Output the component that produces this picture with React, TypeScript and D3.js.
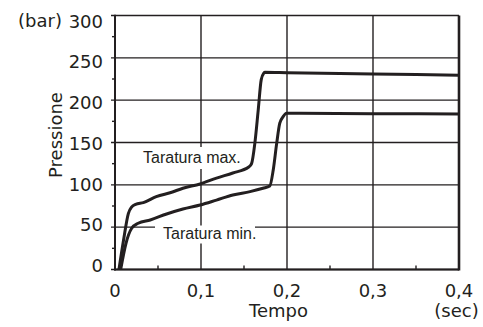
import React from "react";
import * as d3 from "d3";

// Pressure curves (bar) over time (sec)
const maxTime = [0.0046, 0.0100, 0.0155, 0.0195, 0.024, 0.033, 0.048, 0.065, 0.079, 0.099, 0.118, 0.137, 0.1555, 0.1588, 0.1626, 0.1665, 0.170, 0.173, 0.1745, 0.2, 0.3, 0.4];
const maxValue = [0, 35, 66, 74, 77, 79, 86, 91, 96, 101, 108, 114, 121, 125, 149, 188, 224, 232, 233, 232.5, 231, 229.5];

const minTime = [0.0066, 0.0128, 0.0194, 0.027, 0.041, 0.06, 0.079, 0.099, 0.118, 0.137, 0.157, 0.172, 0.180, 0.184, 0.188, 0.1916, 0.1955, 0.1994, 0.3, 0.4];
const minValue = [0, 31, 48.7, 54.6, 58.5, 65.6, 71.5, 76.2, 82, 88, 92, 96, 98.7, 117.6, 149, 172.8, 180.5, 184.5, 184, 183.7];

const yMajor = [0, 50, 100, 150, 200, 250, 300];
const yMinor = [25, 75, 125, 175, 225, 275];
const xMajor = [0, 0.1, 0.2, 0.3, 0.4];
const xMinor = [0.05, 0.15, 0.25, 0.35];
const xTickLabels = ["0", "0,1", "0,2", "0,3", "0,4"];

const W = 483;
const H = 327;
const INK = "#231f20";
const TICK_FONT = "'DejaVu Sans', Verdana, sans-serif";
const NOTE_FONT = "'Liberation Sans', Arial, sans-serif";

export default function App() {
  const x = d3.scaleLinear().domain([0, 0.4]).range([115, 459]);
  const y = d3.scaleLinear().domain([0, 300]).range([269.5, 15.5]);
  // tick labels sit on a slightly tighter spacing than the grid
  const yLab = d3.scaleLinear().domain([0, 300]).range([265.5, 21]);

  const line = d3
    .line<[number, number]>()
    .x((d) => x(d[0]))
    .y((d) => y(d[1]))
    .curve(d3.curveMonotoneX);

  const maxPts = maxTime.map((t, i) => [t, maxValue[i]] as [number, number]);
  const minPts = minTime.map((t, i) => [t, minValue[i]] as [number, number]);

  return (
    <svg
      width={W}
      height={H}
      style={{ position: "absolute", left: 0, top: 0, background: "#fff" }}
    >
      <rect x={0} y={0} width={W} height={H} fill="#fff" />
      {/* horizontal grid */}
      {yMajor.map((v) => (
        <line key={"gy" + v} x1={111} x2={x(0.4)} y1={y(v)} y2={y(v)} stroke={INK} strokeWidth={1.4} />
      ))}
      {yMinor.map((v) => (
        <line key={"my" + v} x1={112} x2={x(0)} y1={y(v)} y2={y(v)} stroke={INK} strokeWidth={1.4} />
      ))}
      {/* vertical grid */}
      {xMajor.slice(1, 4).map((v) => (
        <line key={"gx" + v} x1={x(v)} x2={x(v)} y1={y(300)} y2={y(0)} stroke={INK} strokeWidth={1.4} />
      ))}
      {xMinor.map((v) => (
        <line key={"mx" + v} x1={x(v)} x2={x(v)} y1={y(0) - 4} y2={y(0)} stroke={INK} strokeWidth={1.4} />
      ))}
      {/* frame */}
      <line x1={x(0.4)} x2={x(0.4)} y1={y(300)} y2={y(0) + 1} stroke={INK} strokeWidth={2.6} />
      <line x1={x(0)} x2={x(0)} y1={y(300) - 0.7} y2={y(0) + 1} stroke={INK} strokeWidth={2} />
      <line x1={x(0) - 1} x2={x(0.4)} y1={y(0)} y2={y(0)} stroke={INK} strokeWidth={2} />

      {/* label backgrounds */}
      <rect x={141} y={147} width={103} height={22} fill="#fff" />
      <rect x={155} y={225.5} width={100} height={18} fill="#fff" />

      {/* curves */}
      <path d={line(maxPts) ?? ""} fill="none" stroke={INK} strokeWidth={3} strokeLinejoin="round" />
      <path d={line(minPts) ?? ""} fill="none" stroke={INK} strokeWidth={3} strokeLinejoin="round" />

      {/* annotations */}
      <text x={143} y={163.3} fontFamily={NOTE_FONT} fontSize={16} fill={INK}>
        Taratura max.
      </text>
      <text x={163} y={239.3} fontFamily={NOTE_FONT} fontSize={16} fill={INK}>
        Taratura min.
      </text>

      {/* y tick labels */}
      {yMajor.map((v) => (
        <text
          key={"ly" + v}
          x={103}
          y={yLab(v) + 6.5}
          textAnchor="end"
          fontFamily={TICK_FONT}
          fontSize={18}
          fill={INK}
        >
          {v}
        </text>
      ))}
      <text x={62} y={27.3} textAnchor="end" fontFamily={TICK_FONT} fontSize={18} fill={INK}>
        (bar)
      </text>

      {/* x tick labels */}
      {xMajor.map((v, i) => (
        <text
          key={"lx" + v}
          x={x(v)}
          y={296.7}
          textAnchor="middle"
          fontFamily={TICK_FONT}
          fontSize={18}
          fill={INK}
        >
          {xTickLabels[i]}
        </text>
      ))}

      {/* axis titles */}
      <text x={278.5} y={317.3} textAnchor="middle" fontFamily={TICK_FONT} fontSize={18} fill={INK}>
        Tempo
      </text>
      <text x={456.5} y={317.3} textAnchor="middle" fontFamily={TICK_FONT} fontSize={18} fill={INK}>
        (sec)
      </text>
      <text
        transform="translate(61.5,135) rotate(-90)"
        textAnchor="middle"
        fontFamily={TICK_FONT}
        fontSize={18}
        fill={INK}
      >
        Pressione
      </text>
    </svg>
  );
}
